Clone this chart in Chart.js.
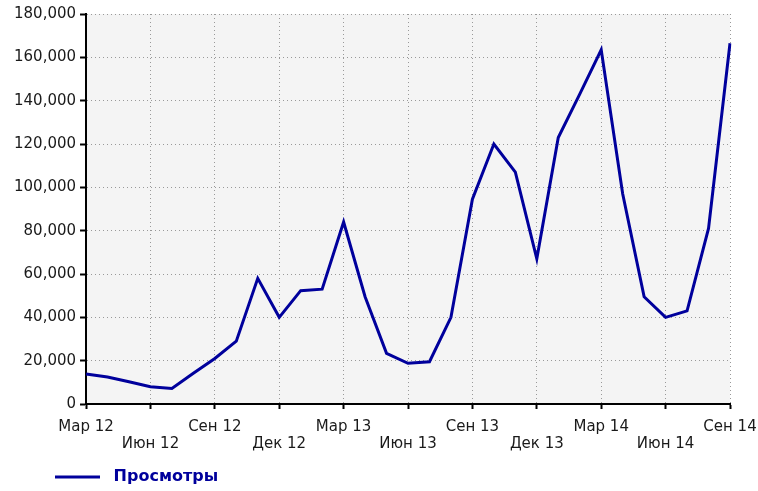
<!DOCTYPE html>
<html>
<head>
<meta charset="utf-8">
<script src="https://cdn.jsdelivr.net/npm/chart.js@4/dist/chart.umd.min.js"></script>
<style>
  html, body { margin: 0; padding: 0; background: #fff; }
  #wrap { width: 758px; height: 491px; }
</style>
</head>
<body>
<div id="wrap"><canvas id="viewsChart"></canvas></div>
<script>
const months = [
  'Мар 12', 'Апр 12', 'Май 12', 'Июн 12', 'Июл 12', 'Авг 12',
  'Сен 12', 'Окт 12', 'Ноя 12', 'Дек 12', 'Янв 13', 'Фев 13',
  'Мар 13', 'Апр 13', 'Май 13', 'Июн 13', 'Июл 13', 'Авг 13',
  'Сен 13', 'Окт 13', 'Ноя 13', 'Дек 13', 'Янв 14', 'Фев 14',
  'Мар 14', 'Апр 14', 'Май 14', 'Июн 14', 'Июл 14', 'Авг 14',
  'Сен 14',
]
const views = [
  13800, 12500, 10300, 8000, 7200, 14200,
  21000, 29000, 58000, 40000, 52300, 53000,
  84000, 49500, 23400, 18800, 19500, 40000,
  94500, 120000, 107000, 67000, 123000, 143000,
  163500, 97000, 49500, 40000, 43000, 81000,
  166500,
]
const seriesName = 'Просмотры'
const yMax = 180000
const yStep = 20000

const lineColor = '#00009c'
const gridColor = '#999999'

// light gray plot background
const plotBg = {
  id: 'plotBg',
  beforeDraw(chart) {
    const { ctx, chartArea: a } = chart
    ctx.save()
    ctx.fillStyle = '#f4f4f4'
    ctx.fillRect(a.left, a.top, a.right - a.left, a.bottom - a.top)
    ctx.restore()
  },
}

// move the legend a bit to the right and down
const legendShift = {
  id: 'legendShift',
  afterLayout(chart) {
    const lg = chart.legend
    lg.left += 42
    lg.right += 42
    lg.top += 4
    lg.bottom += 4
  },
}

const ctx = document.getElementById('viewsChart').getContext('2d')

new Chart(ctx, {
  type: 'line',
  data: {
    labels: months,
    datasets: [
      {
        label: seriesName,
        data: views,
        borderColor: lineColor,
        backgroundColor: lineColor,
        borderWidth: 3,
        tension: 0,
        pointRadius: 0,
        fill: false,
      },
    ],
  },
  options: {
    responsive: true,
    maintainAspectRatio: false,
    animation: false,
    layout: {
      padding: { top: 14, left: 10, right: 0, bottom: 0 },
    },
    plugins: {
      tooltip: { enabled: false },
      legend: {
        position: 'bottom',
        align: 'start',
        labels: {
          boxWidth: 45,
          boxHeight: 3,
          padding: 3,
          color: lineColor,
          font: { family: 'DejaVu Sans', size: 16, weight: 'bold' },
          generateLabels: (chart) => [
            {
              text: ' ' + seriesName,
              fillStyle: lineColor,
              strokeStyle: lineColor,
              lineWidth: 0,
              fontColor: lineColor,
              datasetIndex: 0,
            },
          ],
        },
      },
    },
    scales: {
      x: {
        type: 'category',
        offset: false,
        // the last label may run up to the canvas edge
        afterFit: (scale) => {
          scale.paddingRight = 28
        },
        border: { display: true, color: '#000', width: 2, dash: [1, 3] },
        grid: {
          color: (c) => (c.index % 3 ? 'rgba(0,0,0,0)' : gridColor),
          tickColor: (c) => (c.index % 3 ? 'rgba(0,0,0,0)' : '#000'),
          tickLength: 5,
          tickWidth: 2,
          tickBorderDash: [],
          lineWidth: 1,
        },
        ticks: {
          autoSkip: false,
          maxRotation: 0,
          padding: 10,
          color: '#1a1a1a',
          font: { family: 'DejaVu Sans', size: 15, lineHeight: 1.1 },
          callback: function (value, index) {
            if (index % 3) return ''
            const label = months[index]
            // every other quarter goes on a second row
            return (index / 3) % 2 ? ['', label] : label
          },
        },
      },
      y: {
        min: 0,
        max: yMax,
        border: { display: true, color: '#000', width: 2, dash: [1, 3] },
        grid: {
          color: gridColor,
          tickColor: '#000',
          tickLength: 6,
          tickWidth: 2,
          tickBorderDash: [],
          lineWidth: 1,
        },
        ticks: {
          stepSize: yStep,
          padding: 4,
          color: '#1a1a1a',
          font: { family: 'DejaVu Sans', size: 15, lineHeight: 1.1 },
          callback: (value) => value.toLocaleString('en-US'),
        },
      },
    },
  },
  plugins: [plotBg, legendShift],
})
</script>
</body>
</html>
